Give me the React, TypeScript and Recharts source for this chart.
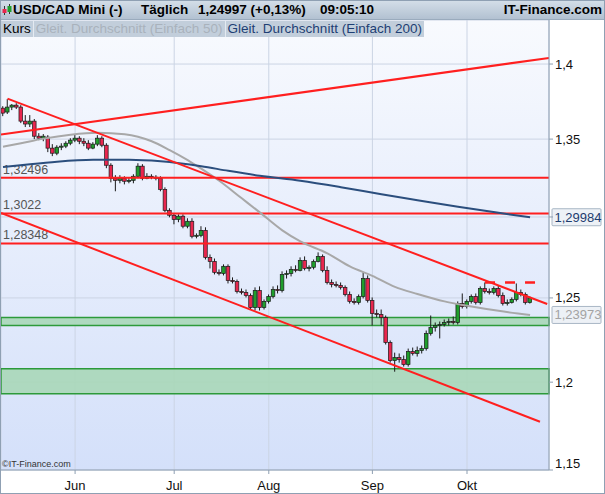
import React from "react";
import {
  ComposedChart,
  Bar,
  Line,
  XAxis,
  YAxis,
  CartesianGrid,
  ReferenceLine,
  ReferenceArea,
} from "recharts";

// daily candles, index 0 = 10 May, last = 20 Oct
const opens = [
  1.3704, 1.3678, 1.3711, 1.3724, 1.3711, 1.3618, 1.3599, 1.3618, 1.3519, 1.3506,
  1.3513, 1.3441, 1.3408, 1.3447, 1.3454, 1.3473, 1.3493, 1.3506, 1.3486, 1.3473,
  1.3441, 1.3467, 1.3506, 1.346, 1.333, 1.3246, 1.3233, 1.3246, 1.3227, 1.3233,
  1.3259, 1.3324, 1.3246, 1.3259, 1.3253, 1.3246, 1.3175, 1.3042, 1.3011, 1.2985,
  1.3005, 1.2942, 1.2973, 1.2879, 1.2885, 1.2916, 1.2748, 1.2723, 1.2656, 1.2649,
  1.2693, 1.2606, 1.26, 1.2539, 1.2533, 1.2515, 1.2442, 1.2545, 1.2442, 1.2479,
  1.2509, 1.2551, 1.2545, 1.2643, 1.2649, 1.2674, 1.2668, 1.2729, 1.268, 1.2687,
  1.2723, 1.2754, 1.2668, 1.2594, 1.2582, 1.2576, 1.2564, 1.2521, 1.2479, 1.2472,
  1.2509, 1.2618, 1.2485, 1.2406, 1.24, 1.2382, 1.2233, 1.2126, 1.2144, 1.2132,
  1.2103, 1.2179, 1.2168, 1.2185, 1.2197, 1.2286, 1.2322, 1.2334, 1.234, 1.2352,
  1.2358, 1.2352, 1.2466, 1.2448, 1.2479, 1.2509, 1.2472, 1.2557, 1.2539, 1.2533,
  1.2557, 1.2515, 1.2466, 1.2472, 1.2491, 1.2533, 1.2521, 1.2472,
];
const highs = [
  1.3717, 1.3764, 1.3731, 1.3737, 1.3724, 1.3658, 1.3658, 1.3632, 1.3539, 1.3533,
  1.3526, 1.3467, 1.346, 1.3473, 1.3486, 1.3506, 1.3533, 1.3519, 1.3506, 1.3493,
  1.348, 1.3526, 1.3519, 1.3473, 1.3343, 1.3266, 1.3266, 1.3259, 1.3253, 1.3272,
  1.3343, 1.3337, 1.3279, 1.3272, 1.3266, 1.3259, 1.3188, 1.3055, 1.3023, 1.3017,
  1.3017, 1.2992, 1.2992, 1.2897, 1.2942, 1.2935, 1.2766, 1.2741, 1.2674, 1.2705,
  1.2705, 1.2625, 1.2612, 1.2557, 1.2551, 1.2527, 1.2564, 1.257, 1.2491, 1.2521,
  1.257, 1.2576, 1.2662, 1.2668, 1.2693, 1.2699, 1.2748, 1.2754, 1.2699, 1.2735,
  1.2779, 1.2766, 1.2693, 1.2612, 1.26, 1.2594, 1.2576, 1.2539, 1.2497, 1.2521,
  1.2656, 1.2637, 1.2503, 1.243, 1.243, 1.2394, 1.2245, 1.2173, 1.2168, 1.2156,
  1.2197, 1.2203, 1.2209, 1.2215, 1.2304, 1.2394, 1.2352, 1.2358, 1.237, 1.2376,
  1.2388, 1.2479, 1.2527, 1.2491, 1.2521, 1.2527, 1.257, 1.2594, 1.2557, 1.257,
  1.2576, 1.2533, 1.2491, 1.2503, 1.2588, 1.2551, 1.2533, 1.2509,
];
const lows = [
  1.3651, 1.3665, 1.3691, 1.3698, 1.3605, 1.3579, 1.3579, 1.35, 1.3493, 1.3486,
  1.3415, 1.3389, 1.3395, 1.3428, 1.3441, 1.346, 1.348, 1.3467, 1.3454, 1.3428,
  1.3434, 1.3454, 1.3447, 1.3311, 1.322, 1.3163, 1.3214, 1.3207, 1.3214, 1.3214,
  1.3246, 1.3233, 1.324, 1.324, 1.3233, 1.3163, 1.303, 1.2998, 1.2954, 1.2967,
  1.2929, 1.2929, 1.2866, 1.2866, 1.2873, 1.2735, 1.268, 1.2643, 1.2637, 1.2637,
  1.2588, 1.2588, 1.2527, 1.2521, 1.2503, 1.243, 1.2424, 1.2424, 1.243, 1.2466,
  1.2497, 1.2527, 1.2533, 1.2618, 1.2631, 1.2656, 1.2662, 1.2668, 1.2662, 1.2674,
  1.2717, 1.2656, 1.2582, 1.2564, 1.2564, 1.2551, 1.2509, 1.2466, 1.246, 1.246,
  1.2497, 1.2472, 1.2334, 1.2382, 1.2334, 1.2221, 1.2114, 1.2061, 1.2114, 1.2091,
  1.2091, 1.2156, 1.215, 1.2168, 1.2185, 1.2274, 1.2298, 1.2257, 1.2328, 1.2334,
  1.234, 1.234, 1.2436, 1.2436, 1.2466, 1.246, 1.246, 1.2527, 1.2521, 1.2521,
  1.2503, 1.2454, 1.2454, 1.2466, 1.2479, 1.2509, 1.246, 1.2466,
];
const closes = [
  1.3671, 1.3711, 1.3724, 1.3711, 1.3618, 1.3599, 1.3618, 1.3519, 1.3506, 1.3519,
  1.3441, 1.3408, 1.3447, 1.3454, 1.3473, 1.3493, 1.3506, 1.3486, 1.3473, 1.3441,
  1.3467, 1.3506, 1.346, 1.333, 1.3246, 1.3233, 1.3246, 1.3227, 1.3233, 1.3259,
  1.3324, 1.3246, 1.3259, 1.3253, 1.3246, 1.3175, 1.3042, 1.3011, 1.2985, 1.3005,
  1.2942, 1.2973, 1.2879, 1.2885, 1.2916, 1.2748, 1.2723, 1.2656, 1.2649, 1.2693,
  1.2606, 1.26, 1.2539, 1.2533, 1.2515, 1.2442, 1.2545, 1.2442, 1.2479, 1.2509,
  1.2551, 1.2545, 1.2643, 1.2649, 1.2674, 1.2668, 1.2729, 1.268, 1.2687, 1.2723,
  1.2754, 1.2668, 1.2594, 1.2582, 1.2576, 1.2564, 1.2521, 1.2479, 1.2472, 1.2509,
  1.2618, 1.2485, 1.2406, 1.24, 1.2382, 1.2233, 1.2126, 1.2144, 1.2132, 1.2103,
  1.2179, 1.2168, 1.2185, 1.2197, 1.2286, 1.2322, 1.2334, 1.234, 1.2352, 1.2358,
  1.2352, 1.2466, 1.2448, 1.2479, 1.2509, 1.2472, 1.2557, 1.2539, 1.2533, 1.2557,
  1.2515, 1.2466, 1.2472, 1.2491, 1.2533, 1.2521, 1.2472, 1.25,
];

// moving averages, read at some bar indices
const ma50Idx = [0, 4, 9, 15, 21, 27, 33, 37, 41, 44, 48, 53, 57, 62, 66, 72, 77, 82, 87, 92, 98, 104, 110, 117];
const ma50Val = [
  1.345, 1.3473, 1.3503, 1.3529, 1.3542, 1.3532, 1.3486, 1.3428, 1.3363, 1.3308, 1.323, 1.3118,
  1.3029, 1.2916, 1.2847, 1.2773, 1.2692, 1.2634, 1.2567, 1.2524, 1.2479, 1.2448, 1.2422, 1.23973,
];
const ma200Idx = [0, 6, 12, 20, 28, 35, 44, 50, 57, 66, 75, 84, 92, 101, 110, 117];
const ma200Val = [
  1.3318, 1.3337, 1.3353, 1.3365, 1.3366, 1.3356, 1.3324, 1.3294, 1.3262, 1.323, 1.3189, 1.3144,
  1.3106, 1.3064, 1.3026, 1.29984,
];

const months = ["Jun", "Jul", "Aug", "Sep", "Okt"];
const monthIdx = [16, 38, 59, 82, 103];
const priceTicks = [1.15, 1.2, 1.25, 1.3, 1.35, 1.4];

const levels = [1.32496, 1.3022, 1.28348];
const levelLabels = ["1,32496", "1,3022", "1,28348"];
const zones = [
  [1.2334, 1.2382],
  [1.1933, 1.2079],
];
// trend lines: [index, price] pairs
const trendUp = [[-0.44, 1.353], [121.2, 1.4041]];
const channelTop = [[1, 1.3767], [120.8, 1.2463]];
const channelBottom = [[-0.44, 1.3025], [119.2, 1.1772]];
const resistance = [[107, 1.2594], [119.3, 1.2594]];

const bars = closes.map((c, i) => ({
  i,
  open: opens[i],
  high: highs[i],
  low: lows[i],
  close: c,
  range: [lows[i], highs[i]],
}));
const ma50 = ma50Idx.map((i, k) => ({ i, v: ma50Val[k] }));
const ma200 = ma200Idx.map((i, k) => ({ i, v: ma200Val[k] }));

const fmt = (v: number) => String(v).replace(".", ",");

const Candle = (props: any) => {
  const { x, y, width, height, payload } = props;
  if (!payload || y == null || isNaN(y)) return null;
  const { open, close, high, low } = payload;
  const cx = x + width / 2;
  const span = Math.log(high) - Math.log(low);
  const py = (v: number) => (span > 0 ? y + ((Math.log(high) - Math.log(v)) / span) * height : y);
  const yo = py(open);
  const yc = py(close);
  const up = close >= open;
  const top = Math.min(yo, yc);
  const h = Math.max(Math.abs(yc - yo), 1);
  return (
    <g>
      <line x1={cx} x2={cx} y1={y} y2={y + height} stroke="#1a1a1a" strokeWidth={1} />
      <rect
        x={cx - 1.8}
        y={top}
        width={3.6}
        height={h}
        fill={up ? "#1f9e2c" : "#e8264e"}
        stroke="#1a1a1a"
        strokeWidth={0.7}
      />
    </g>
  );
};

const YTick = (props: any) => {
  const { x, y, payload } = props;
  const v = payload.value;
  if (Math.abs(v - 1.3) < 1e-6) return null;
  const lift = v <= 1.15 ? -7 : 0;
  return (
    <text x={x} y={y + lift} dy={4.5} fontSize={13} fill="#111" textAnchor="start">
      {fmt(v)}
    </text>
  );
};

const levelLabel = (text: string) => (p: any) => {
  const vb = p.viewBox;
  return (
    <text x={vb.x + 2} y={vb.y - 4} fontSize={12.5} fill="#555">
      {text}
    </text>
  );
};

const valueTag = (text: string, color: string) => (p: any) => {
  const vb = p.viewBox;
  const left = vb.x + vb.width + 3;
  return (
    <g>
      <rect x={left} y={vb.y - 8.5} width={49} height={17} fill="#edf1f6" stroke="#a8b6c5" rx={1} />
      <text x={left + 2.5} y={vb.y + 4.5} fontSize={13} fill={color}>
        {text}
      </text>
    </g>
  );
};

const seg = (pts: number[][]) => pts.map(([x, y]) => ({ x, y }));

export default function App() {
  return (
    <div
      style={{
        position: "absolute",
        left: 0,
        top: 0,
        width: 605,
        height: 494,
        background: "#fff",
        fontFamily: '"Liberation Sans", Arial, sans-serif',
        overflow: "hidden",
      }}
    >
      <ComposedChart width={605} height={494} data={bars} margin={{ top: 20, right: 0, bottom: 0, left: 1 }}>
        <defs>
          <linearGradient id="plotBg" x1="0" y1="0" x2="0" y2="1">
            <stop offset="0%" stopColor="#f8fafe" />
            <stop offset="100%" stopColor="#d4e0fa" />
          </linearGradient>
        </defs>
        <CartesianGrid stroke="#cbd4e4" fill="url(#plotBg)" fillOpacity={1} />
        <XAxis
          dataKey="i"
          type="number"
          domain={[-0.444, 121.2]}
          allowDataOverflow
          ticks={monthIdx}
          tickFormatter={(v: number) => months[monthIdx.indexOf(v)]}
          height={24}
          tickSize={4}
          tickMargin={7}
          stroke="#8e9fb2"
          tick={{ fill: "#111", fontSize: 13 }}
        />
        <YAxis
          orientation="right"
          type="number"
          scale="log"
          domain={[1.15, 1.4302]}
          allowDataOverflow
          ticks={priceTicks}
          width={56}
          tickSize={4}
          tickMargin={2}
          stroke="#8e9fb2"
          tick={<YTick />}
        />
        {zones.map(([a, b], k) => (
          <ReferenceArea
            key={"z" + k}
            y1={a}
            y2={b}
            fill="#a9d7b8"
            fillOpacity={0.9}
            stroke="#2c9a3a"
            strokeWidth={1.5}
          />
        ))}
        {levels.map((v, k) => (
          <ReferenceLine
            key={"l" + k}
            y={v}
            stroke="#ff1f1f"
            strokeWidth={2}
            label={levelLabel(levelLabels[k])}
          />
        ))}
        <Line
          data={ma50}
          dataKey="v"
          type="monotone"
          stroke="#a8a8a8"
          strokeWidth={2}
          dot={false}
          isAnimationActive={false}
        />
        <Line
          data={ma200}
          dataKey="v"
          type="monotone"
          stroke="#2b4e7d"
          strokeWidth={2}
          dot={false}
          isAnimationActive={false}
        />
        <Bar dataKey="range" barSize={4} shape={Candle} isAnimationActive={false} />
        <ReferenceLine segment={seg(trendUp)} stroke="#ff1f1f" strokeWidth={2.2} ifOverflow="hidden" />
        <ReferenceLine segment={seg(channelTop)} stroke="#ff1f1f" strokeWidth={2} ifOverflow="hidden" />
        <ReferenceLine segment={seg(channelBottom)} stroke="#ff1f1f" strokeWidth={2} ifOverflow="hidden" />
        <ReferenceLine
          segment={seg(resistance)}
          stroke="#ff1f1f"
          strokeWidth={2.5}
          strokeDasharray="10 10"
          ifOverflow="hidden"
        />
        <ReferenceLine
          y={ma200Val[ma200Val.length - 1]}
          stroke="none"
          label={valueTag(fmt(ma200Val[ma200Val.length - 1]), "#1d3c6e")}
        />
        <ReferenceLine
          y={ma50Val[ma50Val.length - 1]}
          stroke="none"
          label={valueTag(fmt(ma50Val[ma50Val.length - 1]), "#a3a3a3")}
        />
      </ComposedChart>

      {/* header */}
      <div
        style={{
          position: "absolute",
          left: 0,
          top: 0,
          width: 605,
          height: 19,
          background: "linear-gradient(#d5dfe9, #b2c1d1)",
          borderBottom: "1px solid #9aabbd",
          fontWeight: "bold",
          fontSize: 13.5,
          lineHeight: "19px",
          color: "#000",
          whiteSpace: "nowrap",
        }}
      >
        <svg width={10} height={12} style={{ position: "absolute", left: 2, top: 4 }}>
          <line x1={2.5} x2={2.5} y1={2} y2={11} stroke="#333" />
          <rect x={0.5} y={5} width={4} height={4} fill="#e8264e" />
          <line x1={7.5} x2={7.5} y1={0} y2={10} stroke="#333" />
          <rect x={5.5} y={2} width={4} height={6} fill="#1f9e2c" />
        </svg>
        <span style={{ position: "absolute", left: 13 }}>USD/CAD Mini (-)</span>
        <span style={{ position: "absolute", left: 141 }}>Täglich</span>
        <span style={{ position: "absolute", left: 198 }}>1,24997 (+0,13%)</span>
        <span style={{ position: "absolute", left: 320 }}>09:05:10</span>
        <span style={{ position: "absolute", right: 3 }}>IT-Finance.com</span>
      </div>

      {/* legend */}
      <div
        style={{
          position: "absolute",
          left: 1,
          top: 21,
          height: 16,
          display: "flex",
          fontSize: 13.5,
          lineHeight: "16px",
          whiteSpace: "nowrap",
        }}
      >
        <div style={{ background: "#c2cedb", padding: "0 2px", color: "#000", borderRight: "1px solid #e4eaf1" }}>Kurs</div>
        <div style={{ background: "#c2cedb", padding: "0 2px", color: "#a9b2bc", borderRight: "1px solid #e4eaf1" }}>
          Gleit. Durchschnitt (Einfach 50)
        </div>
        <div style={{ background: "#c2cedb", padding: "0 2px", color: "#1e3f74" }}>
          Gleit. Durchschnitt (Einfach 200)
        </div>
      </div>

      <div style={{ position: "absolute", left: 2, top: 459, fontSize: 9, color: "#333" }}>©IT-Finance.com</div>

      <div
        style={{
          position: "absolute",
          left: 0,
          top: 0,
          width: 605,
          height: 494,
          boxSizing: "border-box",
          border: "1px solid #8fa0b3",
          pointerEvents: "none",
        }}
      />
    </div>
  );
}
